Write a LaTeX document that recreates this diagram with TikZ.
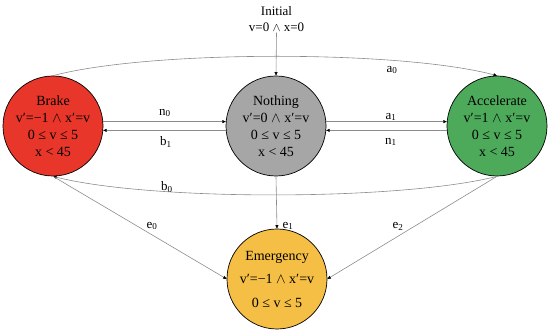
\documentclass[tikz,border=0pt]{standalone}
\usepackage{fontspec}
\setmainfont{Liberation Serif}
\usetikzlibrary{arrows.meta}
\definecolor{cred}{HTML}{E8362A}
\definecolor{cgray}{HTML}{A6A6A6}
\definecolor{cgreen}{HTML}{4DAA5A}
\definecolor{cyellow}{HTML}{F5BE45}
\newcommand{\wed}{\ensuremath{\wedge}}
\begin{document}
\begin{tikzpicture}[x=1pt,y=1pt,
  state/.style={circle,draw=black,line width=0.7pt,minimum size=100pt,inner sep=0pt,align=center,font=\fontsize{14}{17}\selectfont},
  conn/.style={draw=black!45,line width=0.6pt,-{Triangle[length=3.5pt,width=3pt,black]}},
  lbl/.style={font=\fontsize{13}{15}\selectfont,inner sep=0pt}]
\useasboundingbox (0,0) rectangle (550,331);
\node[state,fill=cred] (brake) at (53,205) {Brake\\v′=−1 \wed\ x′=v\\0 ≤ v ≤ 5\\x < 45};
\node[state,fill=cgray] (nothing) at (276,205) {Nothing\\v′=0 \wed\ x′=v\\0 ≤ v ≤ 5\\x < 45};
\node[state,fill=cgreen] (acc) at (497,205) {Accelerate\\v′=1 \wed\ x′=v\\0 ≤ v ≤ 5\\x < 45};
\node[state,fill=cyellow,font=\fontsize{14}{23.5}\selectfont] (emer) at (277,52) {Emergency\\v′=−1 \wed\ x′=v\\0 ≤ v ≤ 5};
\node[align=center,font=\fontsize{13}{15.5}\selectfont,inner sep=1pt] (init) at (276.5,312) {Initial\\v=0 \wed\ x=0};
\draw[conn] (init.south) -- (nothing.north);
\draw[conn] (brake.5) -- (nothing.175);
\draw[conn] (nothing.185) -- (brake.355);
\draw[conn] (nothing.5) -- (acc.175);
\draw[conn] (acc.185) -- (nothing.355);
\draw[conn] (brake.north) .. controls (150,281) and (400,281) .. (acc.north);
\draw[conn] (acc.south) .. controls (400,130) and (150,130) .. (brake.south);
\draw[conn] (brake.south) -- (emer.180);
\draw[conn] (nothing.south) -- (emer.north);
\draw[conn] (acc.south) -- (emer.0);
\node[lbl] (ln0) at (165,218) {n\textsubscript{0}};
\node[lbl] (lb1) at (166,189) {b\textsubscript{1}};
\node[lbl] (la1) at (391,214) {a\textsubscript{1}};
\node[lbl] (ln1) at (391,189) {n\textsubscript{1}};
\node[lbl] (la0) at (392,261) {a\textsubscript{0}};
\node[lbl] (lb0) at (167,144) {b\textsubscript{0}};
\node[lbl] (le0) at (152,105) {e\textsubscript{0}};
\node[lbl] (le1) at (288,105) {e\textsubscript{1}};
\node[lbl] (le2) at (398,105) {e\textsubscript{2}};
\end{tikzpicture}
\end{document}
